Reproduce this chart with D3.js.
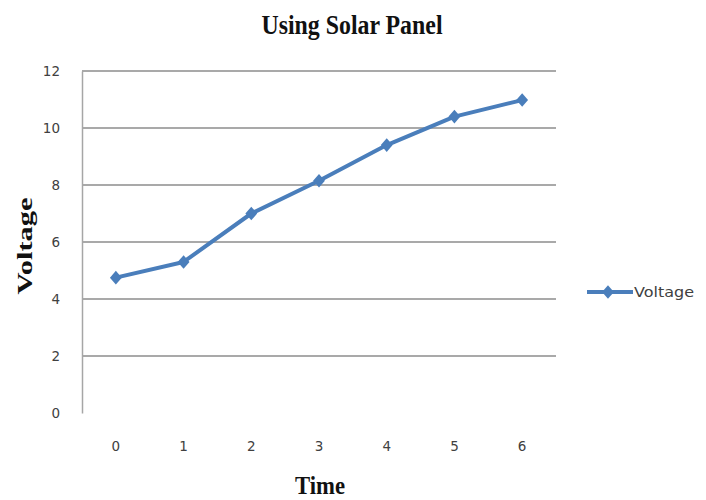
<!DOCTYPE html>
<html>
<head>
<meta charset="utf-8">
<script src="https://cdn.jsdelivr.net/npm/d3@7"></script>
<style>
  html, body { margin: 0; padding: 0; background: #fff; }
  svg { display: block; }
</style>
</head>
<body>
<svg id="chart" width="706" height="500"></svg>
<script>
const categories = ["0", "1", "2", "3", "4", "5", "6"];
const voltage = [4.75, 5.3, 7.0, 8.15, 9.4, 10.4, 10.98];
const yTicks = [0, 2, 4, 6, 8, 10, 12];
const seriesName = "Voltage";
const title = "Using Solar Panel";
const xTitle = "Time";
const yTitle = "Voltage";

const svg = d3.select("#chart");
const margin = { left: 82, right: 150, top: 71, bottom: 87 };
const W = 706, H = 500;

const x = d3.scaleBand().domain(categories).range([margin.left, W - margin.right]);
const y = d3.scaleLinear().domain([0, 12]).range([H - margin.bottom, margin.top]);

const lineColor = "#4a7ebb";

// gridlines
svg.append("g").selectAll("line").data(yTicks.filter(d => d > 0)).join("line")
  .attr("x1", margin.left).attr("x2", W - margin.right)
  .attr("y1", d => y(d)).attr("y2", d => y(d))
  .attr("stroke", "#8c8c8c").attr("stroke-width", 1.5);

// y axis
const yAxis = d3.axisLeft(y).tickValues(yTicks).tickSize(0).tickPadding(22);
const gy = svg.append("g").attr("transform", `translate(${margin.left},0)`).call(yAxis);
gy.select(".domain").attr("stroke", "#a6a6a6").attr("stroke-width", 1.5);
gy.selectAll("text").attr("font-family", "DejaVu Sans, sans-serif").attr("font-size", 13.5).attr("fill", "#404040");

// x axis (labels only)
const xAxis = d3.axisBottom(x).tickSize(0).tickPadding(28);
const gx = svg.append("g").attr("transform", `translate(0,${y(0)})`).call(xAxis);
gx.select(".domain").remove();
gx.selectAll("text").attr("font-family", "DejaVu Sans, sans-serif").attr("font-size", 13.5).attr("fill", "#404040");

// line
const line = d3.line().x((d, i) => x(categories[i]) + x.bandwidth() / 2).y(d => y(d));
svg.append("path").datum(voltage).attr("d", line)
  .attr("fill", "none").attr("stroke", lineColor).attr("stroke-width", 4)
  .attr("stroke-linejoin", "round").attr("stroke-linecap", "round");

const marker = d3.symbol().type(d3.symbolSquare).size(70);
svg.append("g").selectAll("path").data(voltage).join("path")
  .attr("d", marker)
  .attr("transform", (d, i) => `translate(${x(categories[i]) + x.bandwidth() / 2},${y(d)}) scale(1,1.15) rotate(45)`)
  .attr("fill", lineColor);

// title
svg.append("text").attr("x", 352).attr("y", 34).attr("text-anchor", "middle")
  .attr("font-family", "Liberation Serif, serif").attr("font-weight", "bold").attr("font-size", 27)
  .attr("textLength", 181).attr("lengthAdjust", "spacingAndGlyphs")
  .attr("fill", "#111").text(title);

// x title
svg.append("text").attr("x", 320).attr("y", 494).attr("text-anchor", "middle")
  .attr("font-family", "Liberation Serif, serif").attr("font-weight", "bold").attr("font-size", 26)
  .attr("textLength", 50).attr("lengthAdjust", "spacingAndGlyphs")
  .attr("fill", "#111").text(xTitle);

// y title
svg.append("text").attr("transform", "translate(32,246) rotate(-90)").attr("text-anchor", "middle")
  .attr("font-family", "Liberation Serif, serif").attr("font-weight", "bold").attr("font-size", 22)
  .attr("textLength", 97).attr("lengthAdjust", "spacingAndGlyphs")
  .attr("fill", "#111").text(yTitle);

// legend
const lg = svg.append("g").attr("transform", "translate(587,292)");
lg.append("line").attr("x1", 0).attr("x2", 46).attr("y1", 0).attr("y2", 0)
  .attr("stroke", lineColor).attr("stroke-width", 4);
lg.append("path").attr("d", marker).attr("transform", "translate(21,0) scale(1,1.15) rotate(45)").attr("fill", lineColor);
lg.append("text").attr("x", 47).attr("y", 5)
  .attr("font-family", "DejaVu Sans, sans-serif").attr("font-size", 14).attr("fill", "#404040")
  .attr("textLength", 60).attr("lengthAdjust", "spacingAndGlyphs")
  .text(seriesName);
</script>
</body>
</html>
